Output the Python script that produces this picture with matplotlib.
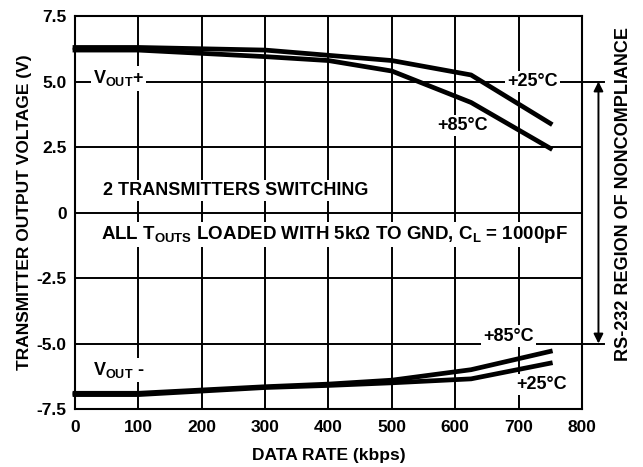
import matplotlib
matplotlib.use("Agg")
import matplotlib.pyplot as plt

plt.rcParams['font.family'] = ['Liberation Sans', 'DejaVu Sans']
plt.rcParams['font.weight'] = 'bold'
plt.rcParams['mathtext.fontset'] = 'custom'
plt.rcParams['mathtext.rm'] = 'Liberation Sans:bold'
plt.rcParams['mathtext.it'] = 'Liberation Sans:bold'
plt.rcParams['mathtext.bf'] = 'Liberation Sans:bold'

# Data
rate = [0, 100, 300, 400, 500, 625, 750]
vpos_25 = [6.3, 6.3, 6.2, 6.0, 5.8, 5.25, 3.4]
vpos_85 = [6.2, 6.2, 5.95, 5.8, 5.4, 4.2, 2.45]
vneg_85 = [-6.9, -6.9, -6.65, -6.55, -6.4, -6.0, -5.3]
vneg_25 = [-6.95, -6.95, -6.68, -6.6, -6.5, -6.35, -5.75]

xticks = [0, 100, 200, 300, 400, 500, 600, 700, 800]
yticks = [-7.5, -5.0, -2.5, 0, 2.5, 5.0, 7.5]
ytick_labels = ['-7.5', '-5.0', '-2.5', '0', '2.5', '5.0', '7.5']

FS = 12.5
AFS = 13

fig = plt.figure(figsize=(6.43, 4.67), dpi=100)
ax = fig.add_axes([0.1166, 0.1242, 0.7885, 0.8415])

ax.set_xlim(0, 800)
ax.set_ylim(-7.5, 7.5)
ax.set_xticks(xticks)
ax.set_yticks(yticks)
ax.set_yticklabels(ytick_labels)
ax.tick_params(length=0, labelsize=FS)
ax.tick_params(axis='x', pad=8)
ax.tick_params(axis='y', pad=6)
for lab in ax.get_xticklabels() + ax.get_yticklabels():
    lab.set_fontweight('bold')
ax.grid(True, color='black', linewidth=1.4, zorder=1)
ax.set_axisbelow(True)
for s in ax.spines.values():
    s.set_linewidth(1.5)

lw = 3.4
for ys in (vpos_25, vpos_85, vneg_85, vneg_25):
    ax.plot(rate, ys, color='black', linewidth=lw, solid_capstyle='projecting',
            clip_on=False, zorder=4)

bb = dict(facecolor='white', edgecolor='none', pad=1.5)
tkw = dict(fontsize=AFS, fontweight='bold', va='center', ha='left', zorder=3, bbox=bb)
ax.text(28, 5.12, r'V$_{\mathrm{OUT}}$+', **tkw)
ax.text(682, 5.0, '+25°C', **tkw)
ax.text(571, 3.33, '+85°C', **tkw)
ax.text(44, 0.85, '2 TRANSMITTERS SWITCHING', **tkw)
ax.text(41, -0.84, r'ALL T$_{\mathrm{OUTS}}$ LOADED WITH 5kΩ TO GND, C$_{\mathrm{L}}$ = 1000pF',
        **dict(tkw, fontsize=13.5))
ax.text(28, -6.0, r'V$_{\mathrm{OUT}}$ -', **tkw)
ax.text(644, -4.72, '+85°C', **tkw)
ax.text(697, -6.56, '+25°C', **tkw)

# extensions of the +/-5 V lines and arrow
for yv in (5.0, -5.0):
    ax.plot([800, 834], [yv, yv], color='black', linewidth=1.4, clip_on=False, zorder=1)
ax.annotate('', xy=(826, 5.0), xytext=(826, -5.0),
            arrowprops=dict(arrowstyle='<|-|>', color='black', lw=1.4,
                            mutation_scale=14, shrinkA=0, shrinkB=0),
            annotation_clip=False)
fig.text(624/643, 1 - 194/467, 'RS-232 REGION OF NONCOMPLIANCE', rotation=90,
         fontsize=13, fontweight='bold', ha='center', va='center')

ax.set_xlabel('DATA RATE (kbps)', fontsize=FS, fontweight='bold', labelpad=9)
ax.set_ylabel('TRANSMITTER OUTPUT VOLTAGE (V)', fontsize=FS, fontweight='bold', labelpad=3)

fig.savefig('out.png', dpi=100)
